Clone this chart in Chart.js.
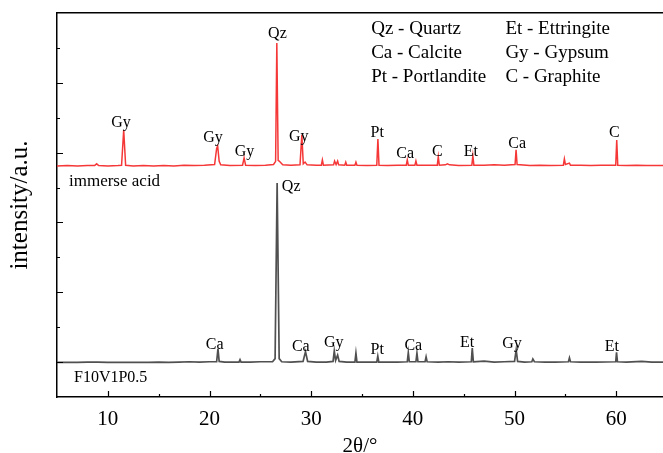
<!DOCTYPE html>
<html>
<head>
<meta charset="utf-8">
<script src="https://cdn.jsdelivr.net/npm/chart.js@4/dist/chart.umd.min.js"></script>
<style>
  html, body { margin: 0; padding: 0; background: #fff; }
  #wrap { width: 663px; height: 453px; }
</style>
</head>
<body>
<div id="wrap"><canvas id="xrd"></canvas></div>
<script>
"use strict"

// acid-immersed sample (upper, red trace, stacked offset)
const acidTheta = [5.0, 6.0, 7.0, 8.0, 8.7, 8.9, 9.1, 10.0, 11.0, 11.35, 11.56, 11.75, 12.5, 13.5, 14.5, 15.5, 16.5, 17.5, 18.5, 19.5,
    20.5, 20.7, 20.8, 20.95, 21.1, 22.0, 23.25, 23.4, 23.55, 24.5, 25.5, 26.3, 26.5, 26.62, 26.75, 26.85, 27.2, 28.0, 28.9, 29.08,
    29.22, 29.4, 29.6, 30.5, 31.0, 31.1, 31.2, 32.2, 32.3, 32.45, 32.6, 32.7, 33.3, 33.4, 33.5, 34.3, 34.4, 34.5, 35.5, 36.45,
    36.56, 36.67, 37.5, 38.5, 39.35, 39.45, 39.55, 40.2, 40.3, 40.4, 41.5, 42.4, 42.5, 42.6, 43.2, 43.4, 43.6, 44.5, 45.8, 45.9,
    46.0, 47.0, 48.0, 49.0, 50.05, 50.15, 50.25, 51.5, 52.5, 53.5, 54.8, 54.9, 55.0, 55.4, 55.5, 56.5, 57.5, 58.5, 59.95, 60.05,
    60.15, 61.0, 62.0, 63.0, 64.6];
const acidCounts = [6.62, 6.63, 6.62, 6.63, 6.63, 6.68, 6.63, 6.62, 6.63, 6.64, 7.65, 6.64, 6.62, 6.63, 6.62, 6.63, 6.62, 6.64, 6.63, 6.64,
    6.66, 7.12, 7.19, 6.75, 6.65, 6.63, 6.64, 6.85, 6.64, 6.63, 6.64, 6.66, 6.75, 10.14, 6.78, 6.76, 6.65, 6.64, 6.65, 7.51,
    6.68, 6.73, 6.65, 6.64, 6.64, 6.79, 6.64, 6.65, 6.76, 6.66, 6.76, 6.65, 6.64, 6.73, 6.64, 6.64, 6.73, 6.64, 6.63, 6.64,
    7.39, 6.64, 6.63, 6.64, 6.64, 6.79, 6.64, 6.64, 6.76, 6.64, 6.64, 6.64, 6.88, 6.64, 6.65, 6.68, 6.65, 6.63, 6.64, 6.91,
    6.64, 6.64, 6.65, 6.64, 6.66, 7.08, 6.66, 6.63, 6.64, 6.63, 6.64, 6.82, 6.66, 6.70, 6.64, 6.64, 6.63, 6.64, 6.64, 7.36,
    6.64, 6.63, 6.64, 6.63, 6.63];

// reference mix F10V1P0.5 (lower, grey trace)
const plainTheta = [5.0, 6.0, 7.0, 8.0, 9.0, 10.0, 11.0, 12.0, 13.0, 14.0, 15.0, 16.0, 17.0, 18.0, 19.0, 20.0, 20.7, 20.83, 20.95, 21.5,
    22.9, 23.0, 23.1, 24.0, 25.0, 26.2, 26.45, 26.65, 26.85, 27.1, 28.0, 29.2, 29.44, 29.65, 30.5, 31.5, 32.15, 32.27, 32.4, 32.6,
    32.75, 33.5, 34.3, 34.4, 34.5, 35.5, 36.45, 36.55, 36.65, 37.5, 38.5, 39.45, 39.55, 39.65, 40.3, 40.4, 40.5, 41.2, 41.3, 41.4,
    42.5, 43.5, 44.5, 45.75, 45.84, 45.95, 47.0, 48.0, 49.0, 50.0, 50.16, 50.3, 51.0, 51.7, 51.8, 51.95, 53.0, 54.0, 55.3, 55.4,
    55.5, 56.5, 58.0, 59.95, 60.03, 60.12, 61.0, 62.5, 63.5, 64.6];
const plainCounts = [0.99, 0.99, 0.99, 1.0, 1.0, 0.99, 0.99, 0.99, 0.99, 0.99, 1.0, 0.99, 1.0, 1.01, 1.0, 1.01, 1.01, 1.38, 1.02, 1.0,
    1.0, 1.07, 1.0, 1.0, 1.01, 1.01, 1.1, 6.13, 1.1, 1.01, 1.0, 1.02, 1.30, 1.02, 1.0, 1.0, 1.02, 1.32, 1.05, 1.2,
    1.02, 1.0, 1.0, 1.26, 1.0, 1.0, 1.0, 1.17, 1.0, 1.0, 1.0, 1.01, 1.27, 1.01, 1.01, 1.26, 1.01, 1.01, 1.15, 1.01,
    1.0, 1.01, 1.0, 1.01, 1.40, 1.01, 1.03, 1.0, 1.01, 1.02, 1.35, 1.02, 1.0, 1.01, 1.09, 1.01, 1.0, 1.0, 1.01, 1.12,
    1.01, 1.0, 1.0, 1.01, 1.28, 1.01, 1.0, 1.02, 1.0, 1.0];

// phase labels: [text, 2theta, intensity] anchors for the text centre
const acidPhases = [['Gy', 11.3, 7.85], ['Gy', 20.35, 7.42], ['Gy', 23.45, 7.03], ['Qz', 26.68, 10.4], ['Gy', 28.78, 7.45],
    ['Pt', 36.5, 7.56], ['Ca', 39.25, 6.96], ['C', 42.4, 7.03], ['Et', 45.7, 7.02], ['Ca', 50.25, 7.25], ['C', 59.82, 7.57]];
const plainPhases = [['Ca', 20.5, 1.49], ['Qz', 28.03, 6.03], ['Ca', 28.98, 1.43], ['Gy', 32.22, 1.55], ['Pt', 36.5, 1.35],
    ['Ca', 40.04, 1.46], ['Et', 45.33, 1.55], ['Gy', 49.74, 1.52], ['Et', 59.57, 1.43]];

const phaseKey = [['Qz - Quartz', 'Ca - Calcite', 'Pt - Portlandite'], ['Et - Ettringite', 'Gy - Gypsum', 'C - Graphite']];
const sampleNames = ['immerse acid', 'F10V1P0.5'];

const serif = "'Liberation Serif', 'Times New Roman', serif";

function toPoints(xs, ys) {
    return xs.map((x, i) => ({ x: x, y: ys[i] }));
}

// inward tick marks, phase labels and key text
const annotate = {
    id: 'annotate',
    afterDatasetsDraw(chart) {
        const ctx = chart.ctx;
        const xs = chart.scales.x;
        const ys = chart.scales.y;
        const area = chart.chartArea;
        ctx.save();
        ctx.strokeStyle = '#000';
        ctx.lineWidth = 1.2;
        ctx.beginPath();
        xs.ticks.forEach(t => {
            if (t.value % 5 !== 0 || t.value <= xs.min) return;
            const px = Math.round(xs.getPixelForValue(t.value)) + 0.5;
            const len = t.value % 10 === 0 ? 6 : 3;
            ctx.moveTo(px, area.bottom);
            ctx.lineTo(px, area.bottom - len);
        });
        ys.ticks.forEach(t => {
            if (t.value <= ys.min || t.value >= ys.max) return;
            const py = Math.round(ys.getPixelForValue(t.value)) + 0.5;
            const len = t.value % 2 === 1 ? 6 : 3;
            ctx.moveTo(area.left, py);
            ctx.lineTo(area.left + len, py);
        });
        ctx.stroke();

        ctx.fillStyle = '#000';
        ctx.textAlign = 'center';
        ctx.textBaseline = 'middle';
        ctx.font = '16px ' + serif;
        acidPhases.concat(plainPhases).forEach(([txt, th, v]) => {
            ctx.fillText(txt, xs.getPixelForValue(th), ys.getPixelForValue(v));
        });

        ctx.textAlign = 'left';
        ctx.font = '19px ' + serif;
        const colX = [35.9, 49.1];
        const rowY = [10.54, 9.86, 9.17];
        phaseKey.forEach((col, c) => {
            col.forEach((txt, r) => {
                ctx.fillText(txt, xs.getPixelForValue(colX[c]), ys.getPixelForValue(rowY[r]));
            });
        });

        ctx.font = '17px ' + serif;
        ctx.fillText(sampleNames[0], xs.getPixelForValue(6.18), ys.getPixelForValue(6.16));
        ctx.font = '16px ' + serif;
        ctx.fillText(sampleNames[1], xs.getPixelForValue(6.67), ys.getPixelForValue(0.54));
        ctx.restore();
    }
};

const config = {
    type: 'line',
    data: {
        datasets: [
            {
                label: sampleNames[0],
                data: toPoints(acidTheta, acidCounts),
                borderColor: 'rgb(245, 55, 55)',
                borderWidth: 1.5,
                pointRadius: 0,
                tension: 0
            },
            {
                label: sampleNames[1],
                data: toPoints(plainTheta, plainCounts),
                borderColor: 'rgb(80, 80, 80)',
                borderWidth: 1.7,
                pointRadius: 0,
                tension: 0
            }
        ]
    },
    options: {
        responsive: true,
        maintainAspectRatio: false,
        animation: false,
        layout: { padding: 0 },
        plugins: {
            legend: { display: false },
            tooltip: { enabled: false }
        },
        scales: {
            x: {
                type: 'linear',
                position: 'bottom',
                min: 5,
                max: 64.6,
                afterFit: s => { s.height = 56; s.paddingRight = 0; },
                ticks: {
                    stepSize: 5,
                    includeBounds: false,
                    padding: 10,
                    color: '#000',
                    maxRotation: 0,
                    autoSkip: false,
                    font: { family: serif, size: 21 },
                    callback: v => (v % 10 === 0 ? v : '')
                },
                grid: { drawOnChartArea: false, drawTicks: false },
                border: { display: true, color: '#000', width: 1.5 },
                title: {
                    display: true,
                    text: '2θ/°',
                    color: '#000',
                    padding: { top: 0, bottom: -4 },
                    font: { family: serif, size: 21, lineHeight: 1 }
                }
            },
            xTop: {
                type: 'linear',
                position: 'top',
                min: 5,
                max: 64.6,
                afterFit: s => { s.height = 13; s.paddingRight = 0; },
                ticks: { display: false, includeBounds: false },
                grid: { drawOnChartArea: false, drawTicks: false },
                border: { display: true, color: '#000', width: 1.5 }
            },
            y: {
                type: 'linear',
                min: 0,
                max: 11,
                afterFit: s => { s.width = 57; },
                ticks: { display: false, stepSize: 1 },
                grid: { drawOnChartArea: false, drawTicks: false },
                border: { display: true, color: '#000', width: 1.5 },
                title: {
                    display: true,
                    text: 'intensity/a.u.',
                    color: '#000',
                    padding: { top: 8, bottom: 0 },
                    font: { family: serif, size: 25, lineHeight: 1 }
                }
            }
        }
    },
    plugins: [annotate]
};

const chart = new Chart(document.getElementById('xrd').getContext('2d'), config);
</script>
</body>
</html>
